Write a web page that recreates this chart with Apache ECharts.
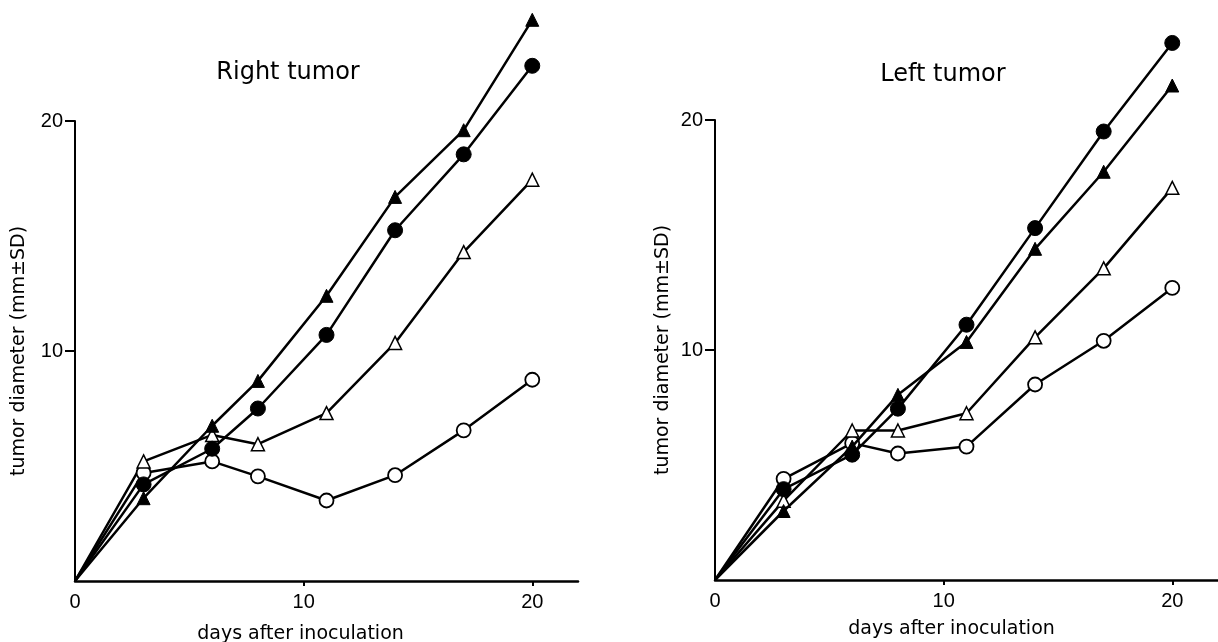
<!DOCTYPE html>
<html>
<head>
<meta charset="utf-8">
<title>Tumor diameter</title>
<script src="https://cdn.jsdelivr.net/npm/echarts@6/dist/echarts.min.js"></script>
<style>
  html, body { margin: 0; padding: 0; background: #fff; }
  #chart { width: 1218px; height: 642px; }
</style>
</head>
<body>
<div id="chart"></div>
<script>
// days after inoculation
const days = [0, 3, 6, 8, 11, 14, 17, 20]

// Right tumor panel
const rightFilledTri = [0, 3.6, 6.75, 8.7, 12.4, 16.7, 19.6, 24.4]
const rightFilledCir = [0, 4.2, 5.75, 7.5, 10.7, 15.25, 18.55, 22.4]
const rightOpenTri = [0, 5.2, 6.35, 5.95, 7.3, 10.35, 14.3, 17.45]
const rightOpenCir = [0, 4.7, 5.2, 4.55, 3.5, 4.6, 6.55, 8.75]

// Left tumor panel
const leftFilledCir = [0, 3.95, 5.45, 7.45, 11.1, 15.3, 19.5, 23.35]
const leftFilledTri = [0, 3.0, 5.8, 8.05, 10.35, 14.4, 17.75, 21.5]
const leftOpenTri = [0, 3.45, 6.5, 6.5, 7.25, 10.55, 13.55, 17.05]
const leftOpenCir = [0, 4.4, 5.95, 5.5, 5.8, 8.5, 10.4, 12.7]

const xTicks = [0, 10, 20]
const yTicks = [10, 20]

const titles = ['Right tumor', 'Left tumor']
const xName = 'days after inoculation'
const yName = 'tumor diameter (mm\u00b1SD)'

const chart = echarts.init(document.getElementById('chart'))

const tickFont = { fontFamily: 'Liberation Sans', fontSize: 20, color: '#000' }
const nameFont = { fontFamily: 'DejaVu Sans', fontSize: 19, color: '#000' }

// marker styles for the four groups
const markers = {
  filledTri: { symbol: 'triangle', symbolSize: 13, itemStyle: { color: '#000', borderColor: '#000', borderWidth: 1 } },
  filledCir: { symbol: 'circle', symbolSize: 15, itemStyle: { color: '#000', borderColor: '#000', borderWidth: 1 } },
  openTri: { symbol: 'triangle', symbolSize: 13, itemStyle: { color: '#fff', borderColor: '#000', borderWidth: 1.5 } },
  openCir: { symbol: 'circle', symbolSize: 14, itemStyle: { color: '#fff', borderColor: '#000', borderWidth: 1.8 } }
}

const makeSeries = (values, kind, panel) => ({
  type: 'line',
  xAxisIndex: panel,
  yAxisIndex: panel,
  clip: false,
  symbol: markers[kind].symbol,
  symbolSize: markers[kind].symbolSize,
  itemStyle: markers[kind].itemStyle,
  lineStyle: { color: '#000', width: 2.5 },
  z: kind.startsWith('open') ? 3 : 4,
  data: values.map((v, i) => i === 0
    ? { value: [days[i], v], symbol: 'none' }
    : [days[i], v])
})

const makeXAxis = (panel, nameGap, shift) => ({
  type: 'value',
  gridIndex: panel,
  min: 0,
  max: 22,
  interval: 10,
  splitLine: { show: false },
  axisLine: { lineStyle: { color: '#000', width: 2.5 } },
  axisTick: { show: true, length: 5, customValues: [10, 20], lineStyle: { color: '#000', width: 2 } },
  axisLabel: { ...tickFont, margin: 11, customValues: xTicks },
  name: xName,
  nameLocation: 'middle',
  nameGap: nameGap,
  nameTextStyle: { ...nameFont, padding: [0, shift, 0, 0] }
})

const makeYAxis = (panel, nameGap) => ({
  type: 'value',
  gridIndex: panel,
  min: 0,
  max: 20,
  interval: 10,
  splitLine: { show: false },
  axisLine: { lineStyle: { color: '#000', width: 2 } },
  axisTick: { show: true, length: 10, customValues: yTicks, lineStyle: { color: '#000', width: 2 } },
  axisLabel: { ...tickFont, margin: 12, customValues: yTicks },
  name: yName,
  nameLocation: 'middle',
  nameGap: nameGap,
  nameTextStyle: nameFont
})

const titleStyle = { fontFamily: 'DejaVu Sans', fontSize: 24, fontWeight: 'normal', color: '#000' }

const option = {
  backgroundColor: '#fff',
  animation: false,
  title: [
    { text: titles[0], left: 283, top: 56, textAlign: 'center', textStyle: titleStyle },
    { text: titles[1], left: 938, top: 58, textAlign: 'center', textStyle: titleStyle }
  ],
  grid: [
    { left: 75, top: 121, width: 503, bottom: 61, outerBoundsMode: 'none' },
    { left: 715, top: 120, width: 503, bottom: 62, outerBoundsMode: 'none' }
  ],
  xAxis: [makeXAxis(0, 44, 52), makeXAxis(1, 40, 30)],
  yAxis: [makeYAxis(0, 46), makeYAxis(1, 42)],
  series: [
    makeSeries(rightOpenCir, 'openCir', 0),
    makeSeries(rightOpenTri, 'openTri', 0),
    makeSeries(rightFilledCir, 'filledCir', 0),
    makeSeries(rightFilledTri, 'filledTri', 0),
    makeSeries(leftOpenCir, 'openCir', 1),
    makeSeries(leftOpenTri, 'openTri', 1),
    makeSeries(leftFilledTri, 'filledTri', 1),
    makeSeries(leftFilledCir, 'filledCir', 1)
  ]
}

chart.setOption(option)
</script>
</body>
</html>
